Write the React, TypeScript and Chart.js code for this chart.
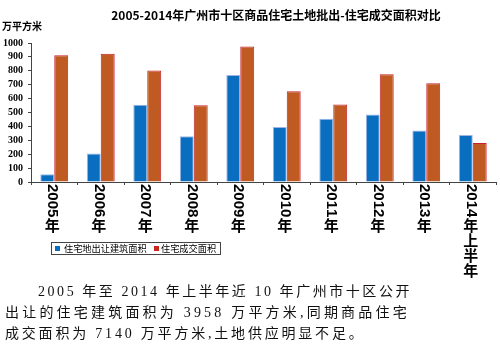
import React, { useEffect, useRef } from "react";
import { Chart, registerables } from "chart.js";

Chart.register(...registerables);

const titleText = "2005-2014年广州市十区商品住宅土地批出-住宅成交面积对比";
const unitText = "万平方米";
const years = ["2005年", "2006年", "2007年", "2008年", "2009年", "2010年", "2011年", "2012年", "2013年", "2014年上半年"];
const landSupply = [55, 205, 555, 330, 770, 395, 455, 485, 370, 338];
const transactions = [912, 922, 803, 552, 975, 652, 558, 775, 710, 281];
const seriesNames = ["住宅地出让建筑面积", "住宅成交面积"];
const yTicksMax = 1000;
const yTicksStep = 100;
const captionLines = [
  "2005 年至 2014 年上半年近 10 年广州市十区公开",
  "出让的住宅建筑面积为 3958 万平方米,同期商品住宅",
  "成交面积为 7140 万平方米,土地供应明显不足。",
];

const BLUE = "#0a6ec0";
const BLUE_BORDER = "#9db6e6";
const ORANGE = "#bf5a22";
const ORANGE_BORDER = "#c8202e";
const LEGEND_RED = "#c8281e";

const textPlugin = {
  id: "textPlugin",
  afterDraw(chart: any) {
    const ctx = chart.ctx as CanvasRenderingContext2D;
    const xs = chart.scales.x;
    ctx.save();
    ctx.fillStyle = "#000";
    // title
    ctx.font = 'bold 12px "Noto Sans CJK SC", "Liberation Sans", sans-serif';
    ctx.textAlign = "center";
    ctx.textBaseline = "middle";
    ctx.fillText(titleText, 276, 15);
    // unit
    ctx.font = 'bold 10px "Noto Sans CJK SC", sans-serif';
    ctx.textAlign = "left";
    ctx.fillText(unitText, 2, 26);
    // x labels, vertical
    const labels = chart.data.labels as string[];
    labels.forEach((lab, i) => {
      const x = xs.getPixelForValue(i) - 2;
      let y = 184;
      for (const ch of lab) {
        if (ch.charCodeAt(0) < 128) {
          ctx.font = 'bold 15px "Liberation Sans", Arial, sans-serif';
          const w = ctx.measureText(ch).width;
          ctx.save();
          ctx.translate(x, y);
          ctx.rotate(Math.PI / 2);
          ctx.textAlign = "left";
          ctx.textBaseline = "middle";
          ctx.fillText(ch, 0, 0);
          ctx.restore();
          y += w;
        } else {
          ctx.font = 'bold 15px "Noto Sans CJK SC", sans-serif';
          ctx.textAlign = "center";
          ctx.textBaseline = "middle";
          ctx.fillText(ch, x, y + 7.5);
          y += 15;
        }
      }
    });
    // legend
    ctx.strokeStyle = "#444";
    ctx.lineWidth = 1;
    ctx.strokeRect(51.5, 242.5, 169, 12);
    const ds = chart.data.datasets;
    ctx.font = '9.2px "Noto Sans CJK SC", sans-serif';
    ctx.textAlign = "left";
    ctx.textBaseline = "middle";
    ctx.fillStyle = ds[0].backgroundColor;
    ctx.fillRect(55, 246, 5, 5);
    ctx.fillStyle = "#000";
    ctx.fillText(ds[0].label, 64, 248.5);
    ctx.fillStyle = LEGEND_RED;
    ctx.fillRect(154, 246, 5, 5);
    ctx.fillStyle = "#000";
    ctx.fillText(ds[1].label, 161, 248.5);
    ctx.restore();
  },
};

export default function App() {
  const ref = useRef<HTMLCanvasElement | null>(null);
  useEffect(() => {
    if (!ref.current) return;
    const chart = new Chart(ref.current, {
      type: "bar",
      data: {
        labels: years,
        datasets: [
          {
            label: seriesNames[0],
            data: landSupply,
            backgroundColor: BLUE,
            borderColor: BLUE_BORDER,
            borderWidth: 1,
            categoryPercentage: 0.6,
            barPercentage: 1.0,
          },
          {
            label: seriesNames[1],
            data: transactions,
            backgroundColor: ORANGE,
            borderColor: ORANGE_BORDER,
            borderWidth: 1,
            categoryPercentage: 0.6,
            barPercentage: 1.0,
          },
        ],
      },
      options: {
        responsive: false,
        animation: false,
        devicePixelRatio: 1,
        layout: { padding: { top: 43, right: 4, left: 0, bottom: 0 } },
        plugins: {
          legend: { display: false },
          title: { display: false },
          tooltip: { enabled: false },
        },
        scales: {
          x: {
            grid: { display: true, drawOnChartArea: false, offset: true, tickLength: 3, color: "#444" },
            border: { color: "#444", width: 1 },
            ticks: { display: false },
            afterFit: (s: any) => {
              s.height = 103;
            },
          },
          y: {
            min: 0,
            max: yTicksMax,
            ticks: {
              stepSize: yTicksStep,
              autoSkip: false,
              maxTicksLimit: 20,
              callback: (v: any) => String(v),
              color: "#000",
              padding: 5,
              font: { family: '"Liberation Serif", "Times New Roman", serif', size: 10, weight: "bold" },
            },
            grid: { display: true, drawOnChartArea: false, tickLength: 3, color: "#444" },
            border: { color: "#444", width: 1 },
            afterFit: (s: any) => {
              s.width = 31;
            },
          },
        },
      },
      plugins: [textPlugin],
    } as any);
    return () => chart.destroy();
  }, []);

  const lineStyle: React.CSSProperties = {
    position: "absolute",
    fontFamily: '"Liberation Serif", "Noto Sans CJK SC", serif',
    fontSize: "14px",
    color: "#111",
    whiteSpace: "nowrap",
    lineHeight: "16px",
  };

  return (
    <div style={{ position: "absolute", left: 0, top: 0, width: 500, height: 358, background: "#fff", overflow: "hidden" }}>
      <canvas ref={ref} width={500} height={285} style={{ position: "absolute", left: 0, top: 0, width: 500, height: 285 }} />
      <div style={{ ...lineStyle, left: 38, top: 284, letterSpacing: "2.55px" }}>{captionLines[0]}</div>
      <div style={{ ...lineStyle, left: 5, top: 305, letterSpacing: "3.2px" }}>{captionLines[1]}</div>
      <div style={{ ...lineStyle, left: 5, top: 326, letterSpacing: "2.8px" }}>{captionLines[2]}</div>
    </div>
  );
}
